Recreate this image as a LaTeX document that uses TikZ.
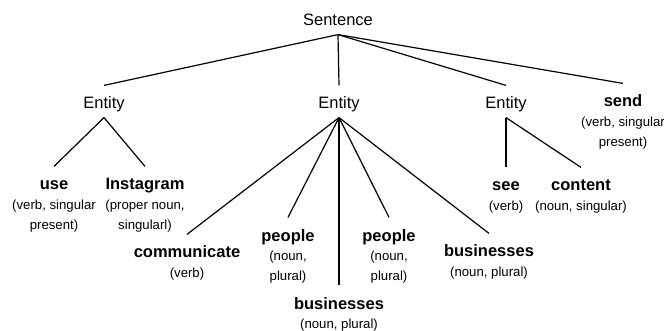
\documentclass[tikz,border=0pt]{standalone}
\usepackage{fontspec}
\setmainfont{Liberation Sans}
\usetikzlibrary{positioning}

\begin{document}
\begin{tikzpicture}[
  x=1pt, y=-1pt,
  node distance=1pt,
  line width=1.2pt,
  tag/.style={inner xsep=0pt, inner ysep=5pt, text height=18pt, text depth=3pt, anchor=base, font=\fontsize{16.5}{20}\selectfont},
  word/.style={tag, font=\fontsize{16.5}{20}\selectfont\bfseries},
  info/.style={inner sep=0pt, align=center, font=\fontsize{13.2}{20}\selectfont}
]
\useasboundingbox (0,0) rectangle (664,331);

% top levels
\node[tag] (sent) at (338,26) {Sentence};
\node[tag] (entA) at (104,109) {Entity};
\node[tag] (entB) at (339,109) {Entity};
\node[tag] (entC) at (506,109) {Entity};
\node[word] (send) at (623,107) {send};
\node[info, below=of send] (sendi) {(verb, singular\\present)};

% first entity
\node[word] (use) at (54,190) {use};
\node[info, below=of use] (usei) {(verb, singular\\present)};
\node[word] (insta) at (145,190) {Instagram};
\node[info, below=of insta] (instai) {(proper noun,\\singularl)};

% second entity
\node[word] (comm) at (187,258) {communicate};
\node[info, below=of comm] (commi) {(verb)};
\node[word] (peopleA) at (288,241) {people};
\node[info, below=of peopleA] (peopleAi) {(noun,\\plural)};
\node[word] (busA) at (339,309) {businesses};
\node[info, below=of busA] (busAi) {(noun, plural)};
\node[word] (peopleB) at (389,241) {people};
\node[info, below=of peopleB] (peopleBi) {(noun,\\plural)};
\node[word] (busB) at (489,257) {businesses};
\node[info, below=of busB] (busBi) {(noun, plural)};

% third entity
\node[word] (see) at (506,191) {see};
\node[info, below=of see] (seei) {(verb)};
\node[word] (content) at (581,191) {content};
\node[info, below=of content] (contenti) {(noun, singular)};

\draw (sent.south) -- (entA.north);
\draw (sent.south) -- (entB.north);
\draw (sent.south) -- (entC.north);
\draw (sent.south) -- (send.north);

\draw (entA.south) -- (use.north);
\draw (entA.south) -- (insta.north);

\draw (entB.south) -- (comm.north);
\draw (entB.south) -- (peopleA.north);
\draw (entB.south) -- (busA.north);
\draw (entB.south) -- (peopleB.north);
\draw (entB.south) -- (busB.north);

\draw (entC.south) -- (see.north);
\draw (entC.south) -- (content.north);
\end{tikzpicture}
\end{document}
